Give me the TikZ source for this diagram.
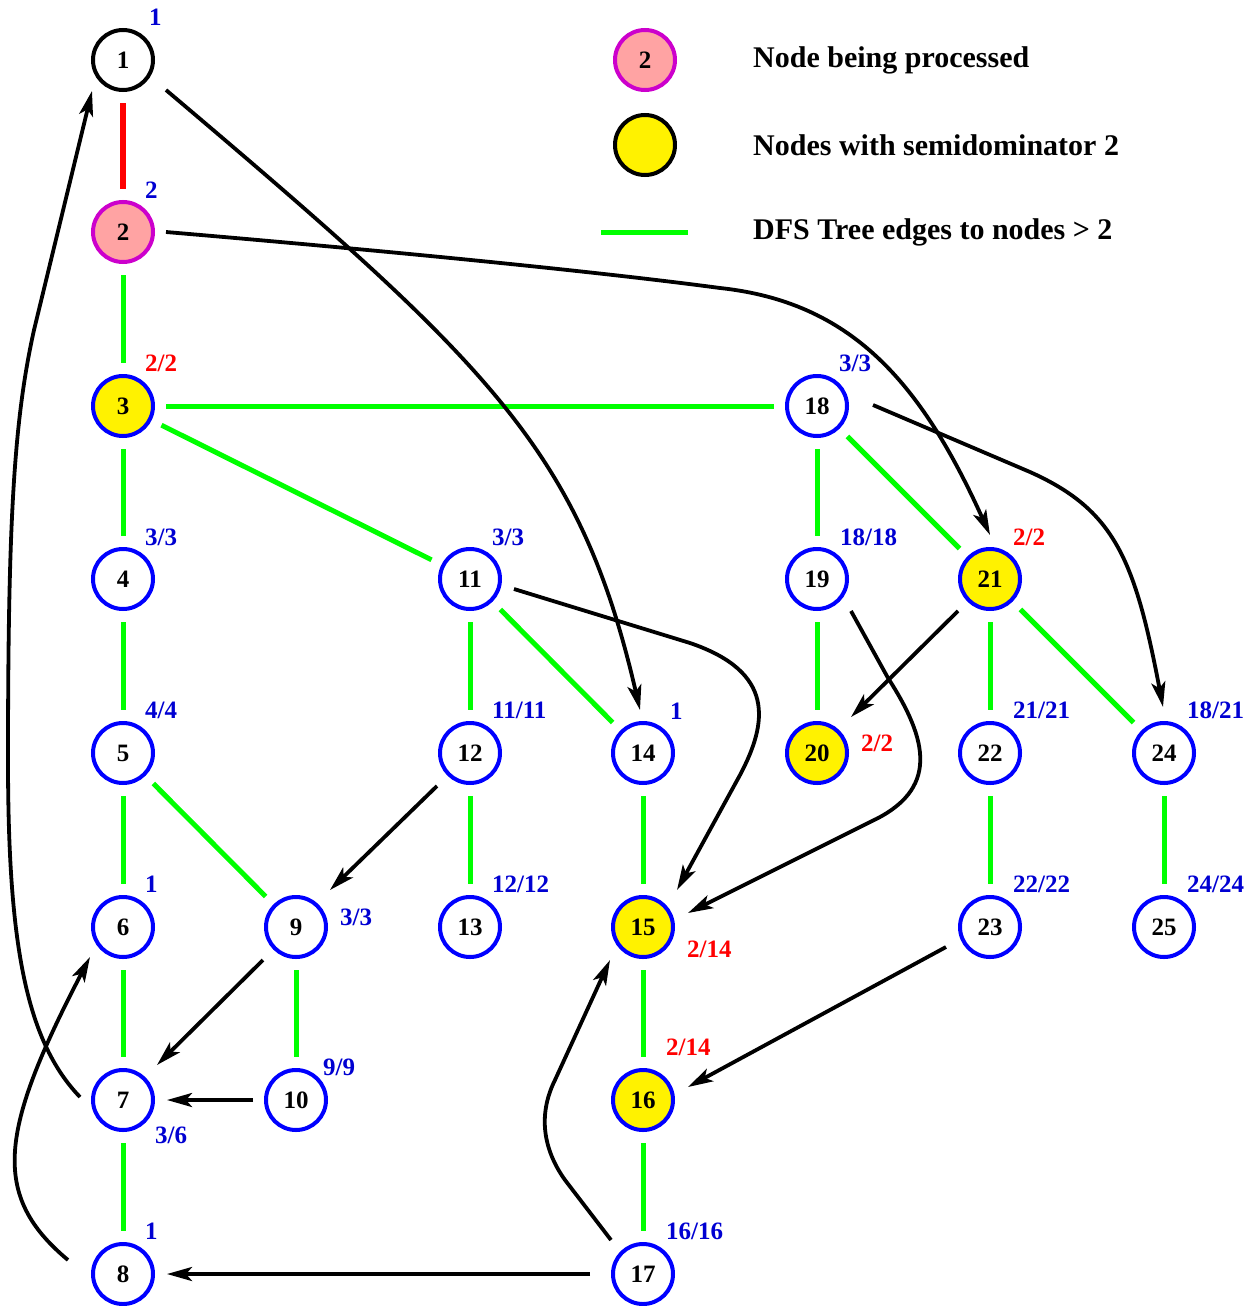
\documentclass[tikz,border=0pt]{standalone}
\usepackage{fontspec}
\setmainfont{Liberation Serif}
\usetikzlibrary{arrows.meta,calc}
\definecolor{pinkfill}{RGB}{255,163,163}
\definecolor{magborder}{RGB}{204,0,204}
\definecolor{treegreen}{RGB}{0,255,0}
\definecolor{nodeblue}{RGB}{0,0,255}
\definecolor{labblue}{RGB}{0,0,210}
\tikzset{
  vnode/.style={circle,draw=nodeblue,line width=4pt,minimum size=60pt,inner sep=0pt,outer sep=13pt,
    font=\fontsize{25}{28}\selectfont\bfseries,text=black},
  semnode/.style={vnode,fill=yellow},
  procnode/.style={vnode,draw=magborder,fill=pinkfill},
  rootnode/.style={vnode,draw=black},
  treeedge/.style={draw=treegreen,line width=5pt},
  rededge/.style={draw=red,line width=6pt},
  arr/.style={draw=black,line width=3.8pt,-{Stealth[length=25pt,width=14pt,inset=6pt]}},
  lab/.style={anchor=west,inner sep=0pt,font=\fontsize{25}{28}\selectfont\bfseries,text=labblue},
  redlab/.style={lab,text=red},
  legtext/.style={anchor=west,inner sep=0pt,font=\fontsize{30}{34}\selectfont\bfseries,text=black}
}
\begin{document}
\begin{tikzpicture}[x=1pt,y=-1pt]
\useasboundingbox (0,0) rectangle (1258,1306);
% nodes
\node[rootnode] (n1) at (123,60) {1};
\node[procnode] (n2) at (123,232) {2};
\node[semnode] (n3) at (123,406) {3};
\node[vnode] (n4) at (123,579) {4};
\node[vnode] (n5) at (123,753) {5};
\node[vnode] (n6) at (123,927) {6};
\node[vnode] (n7) at (123,1100) {7};
\node[vnode] (n8) at (123,1274) {8};
\node[vnode] (n9) at (296,927) {9};
\node[vnode] (n10) at (296,1100) {10};
\node[vnode] (n11) at (470,579) {11};
\node[vnode] (n12) at (470,753) {12};
\node[vnode] (n13) at (470,927) {13};
\node[vnode] (n14) at (643,753) {14};
\node[semnode] (n15) at (643,927) {15};
\node[semnode] (n16) at (643,1100) {16};
\node[vnode] (n17) at (643,1274) {17};
\node[vnode] (n18) at (817,406) {18};
\node[vnode] (n19) at (817,579) {19};
\node[semnode] (n20) at (817,753) {20};
\node[semnode] (n21) at (990,579) {21};
\node[vnode] (n22) at (990,753) {22};
\node[vnode] (n23) at (990,927) {23};
\node[vnode] (n24) at (1164,753) {24};
\node[vnode] (n25) at (1164,927) {25};
% labels
\node[lab] (l1) at (149,17) {1};
\node[lab] (l2) at (145,190) {2};
\node[redlab] (l3) at (145,363) {2/2};
\node[lab] (l4) at (145,537) {3/3};
\node[lab] (l5) at (145,710) {4/4};
\node[lab] (l6) at (145,884) {1};
\node[lab] (l7) at (155,1135) {3/6};
\node[lab] (l8) at (145,1231) {1};
\node[lab] (l9) at (340,917) {3/3};
\node[lab] (l10) at (323,1067) {9/9};
\node[lab] (l11) at (492,537) {3/3};
\node[lab] (l12) at (492,710) {11/11};
\node[lab] (l13) at (492,884) {12/12};
\node[lab] (l14) at (670,711) {1};
\node[redlab] (l15) at (687,949) {2/14};
\node[redlab] (l16) at (666,1047) {2/14};
\node[lab] (l17) at (666,1231) {16/16};
\node[lab] (l18) at (839,363) {3/3};
\node[lab] (l19) at (840,537) {18/18};
\node[redlab] (l20) at (861,743) {2/2};
\node[redlab] (l21) at (1013,537) {2/2};
\node[lab] (l22) at (1013,710) {21/21};
\node[lab] (l23) at (1013,884) {22/22};
\node[lab] (l24) at (1187,710) {18/21};
\node[lab] (l25) at (1187,884) {24/24};
% legend
\node[procnode] (lg1) at (645,60) {2};
\node[semnode,draw=black] (lg2) at (645,145) {};
\coordinate (lg3a) at (601,232);
\coordinate (lg3b) at (688,232);
\draw[treeedge] (lg3a) -- (lg3b);
\node[legtext] (t1) at (753,60) {Node being processed};
\node[legtext] (t2) at (753,145) {Nodes with semidominator 2};
\node[legtext] (t3) at (753,232) {DFS Tree edges to nodes > 2};
% tree edges
\draw[rededge] (n1) -- (n2);
\draw[treeedge] (n2) -- (n3);
\draw[treeedge] (n3) -- (n4);
\draw[treeedge] (n4) -- (n5);
\draw[treeedge] (n5) -- (n6);
\draw[treeedge] (n6) -- (n7);
\draw[treeedge] (n7) -- (n8);
\draw[treeedge] (n3) -- (n18);
\draw[treeedge] (n3) -- (n11);
\draw[treeedge] (n5) -- (n9);
\draw[treeedge] (n9) -- (n10);
\draw[treeedge] (n11) -- (n12);
\draw[treeedge] (n11) -- (n14);
\draw[treeedge] (n12) -- (n13);
\draw[treeedge] (n14) -- (n15);
\draw[treeedge] (n15) -- (n16);
\draw[treeedge] (n16) -- (n17);
\draw[treeedge] (n18) -- (n19);
\draw[treeedge] (n18) -- (n21);
\draw[treeedge] (n19) -- (n20);
\draw[treeedge] (n21) -- (n22);
\draw[treeedge] (n21) -- (n24);
\draw[treeedge] (n22) -- (n23);
\draw[treeedge] (n24) -- (n25);
% other edges
\draw[arr] ($(n7.center)+(-43,-3)$) .. controls (25,1040) and (8,940) .. (8,760) .. controls (8,520) and (14,420) .. (34,330) -- ($(n1.center)+(-31,31)$);
\draw[arr] ($(n8.center)+(-55,-14)$) .. controls (-10,1195) and (0,1130) .. ($(n6.center)+(-33,30)$);
\draw[arr] ($(n1.center)+(43,30)$) .. controls (491,365) and (580,450) .. ($(n14.center)+(-3,-43)$);
\draw[arr] ($(n2.center)+(43,0)$) .. controls (400,252) and (600,272) .. (720,288) .. controls (850,302) and (920,380) .. ($(n21.center)+(0,-44)$);
\draw[arr] ($(n18.center)+(56,-1)$) -- (1030,472) .. controls (1115,510) and (1135,560) .. ($(n24.center)+(-1,-46)$);
\draw[arr] ($(n11.center)+(44,10)$) -- (690,643) .. controls (775,672) and (768,722) .. (740,775) -- ($(n15.center)+(34,-37)$);
\draw[arr] ($(n19.center)+(34,32)$) -- (888,678) .. controls (928,740) and (940,790) .. (870,822) -- ($(n15.center)+(45,-14)$);
\draw[arr] ($(n21.center)+(-32,32)$) -- ($(n20.center)+(34,-36)$);
\draw[arr] ($(n12.center)+(-33,33)$) -- ($(n9.center)+(34,-37)$);
\draw[arr] ($(n9.center)+(-33,33)$) -- ($(n7.center)+(34,-35)$);
\draw[arr] ($(n10.center)+(-43,0)$) -- ($(n7.center)+(44,0)$);
\draw[arr] ($(n17.center)+(-53,0)$) -- ($(n8.center)+(44,0)$);
\draw[arr] ($(n17.center)+(-32,-34)$) -- (565,1180) .. controls (540,1145) and (540,1110) .. (555,1080) -- ($(n15.center)+(-33,33)$);
\draw[arr] ($(n23.center)+(-44,20)$) -- ($(n16.center)+(45,-13)$);
\end{tikzpicture}
\end{document}
